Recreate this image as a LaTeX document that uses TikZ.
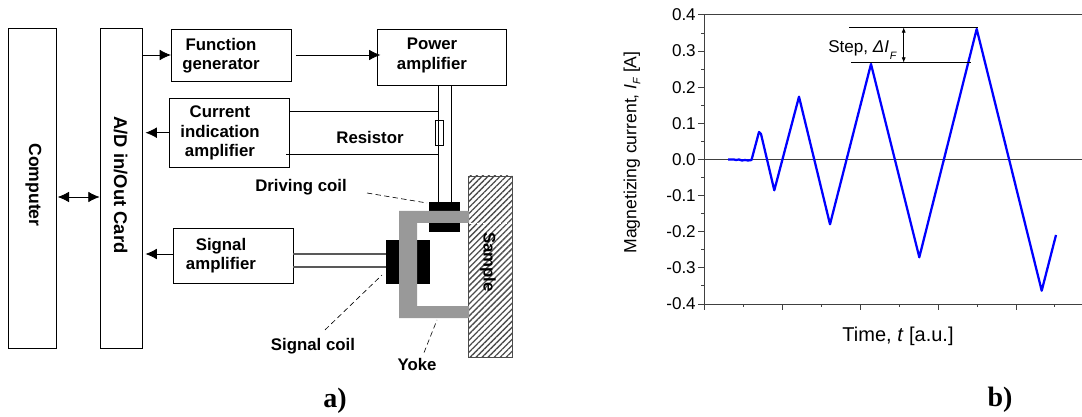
\documentclass[tikz,border=0pt]{standalone}
\usepackage{fontspec}
\setmainfont{Liberation Sans}
\newfontfamily\serifbold[BoldFont={Liberation Serif Bold}]{Liberation Serif}
\usetikzlibrary{arrows.meta,patterns.meta}
\definecolor{yokegray}{gray}{0.6}
\tikzset{
  blockbox/.style={draw=black, line width=0.6pt, minimum width=#1},
  blocktext/.style={font=\fontsize{12.6}{14.6}\selectfont\bfseries, align=center, inner sep=0pt},
  ticktext/.style={font=\fontsize{12.8}{15}\selectfont, inner sep=0pt},
  leader/.style={draw=black, dash pattern=on 4pt off 2.5pt, line width=0.45pt},
  panellabel/.style={font=\fontsize{21}{24}\selectfont\serifbold\bfseries, inner sep=0pt}
}
\begin{document}
\begin{tikzpicture}[x=0.75pt, y=-0.75pt]
  \useasboundingbox (0,0) rectangle (1082,417);
  % part a: blocks
  \begin{scope}[every node/.style={blockbox=0pt, inner sep=0pt}]
    \node[minimum width=35.5pt, minimum height=239.5pt] (computer) at (32.3,188.5) {};
    \node[minimum width=31.8pt, minimum height=239.5pt] (adcard) at (121.2,188.5) {};
    \node[minimum width=90pt, minimum height=39pt] (fgen) at (231.4,55) {};
    \node[minimum width=96.5pt, minimum height=42pt] (pamp) at (441.8,57) {};
    \node[minimum width=90pt, minimum height=51.5pt] (camp) at (229.7,132.7) {};
    \node[minimum width=90pt, minimum height=41.2pt] (samp) at (233,255.5) {};
    \node[minimum width=6pt, minimum height=18.7pt] (resistor) at (439,132.5) {};
  \end{scope}
  \begin{scope}[every node/.style={blocktext}]
    \node[rotate=-90, font=\fontsize{13.2}{15}\selectfont\bfseries] (computertext) at (33.5,185) {Computer};
    \node[rotate=-90, font=\fontsize{13.8}{15}\selectfont\bfseries] (adcardtext) at (120.7,185) {A/D in/Out Card};
    \node (fgentext) at (221,55.5) {Function\\generator};
    \node (pamptext) at (432,55.5) {Power\\amplifier};
    \node (camptext) at (220,133) {Current\\indication\\amplifier};
    \node (samptext) at (221,255.5) {Signal\\amplifier};
    \node (restext) at (370,137) {Resistor};
    \node (dcoiltext) at (301,187) {Driving coil};
    \node (scoiltext) at (313,346) {Signal coil};
    \node (yoketext) at (417,364) {Yoke};
  \end{scope}
  % sample and yoke
  \node[draw=black!70, line width=0.4pt, inner sep=0pt, minimum width=33pt, minimum height=135.8pt,
    pattern={Lines[angle=45, distance=3.2pt, line width=1pt]}, pattern color=black!70] (sample) at (490,266.5) {};
  \draw[white, densely dashed, line width=0.6pt] (470,223.5) -- (512,223.5);
  \node[blocktext, rotate=-90] (sampletext) at (488,262) {Sample};
  \fill[black] (429,202) rectangle (460,232);
  \fill[black] (386,240) rectangle (430,284);
  \fill[yokegray] (469,211) -- (399,211) -- (399,318) -- (469,318) -- (469,306)
    -- (417,306) -- (417,223) -- (469,223) -- cycle;
  \coordinate (dcoil) at (427,203);
  \coordinate (dcoilw) at (438.5,202);
  \coordinate (dcoile) at (451,202);
  \coordinate (scoilu) at (386,254);
  \coordinate (scoild) at (386,267);
  % connections
  \begin{scope}[every edge/.style={draw=black, line width=0.6pt}]
    \path (pamp.south -| dcoilw) edge (dcoilw);
    \path (pamp.south -| dcoile) edge (dcoile);
    \path (camp.east |- 0,111) edge (439,111);
    \path (286,154.7) edge (439,154.7);
    \path (samp.east |- scoilu) edge[draw=black!65, line width=0.9pt] (scoilu);
    \path (samp.east |- scoild) edge[draw=black!65, line width=0.9pt] (scoild);
  \end{scope}
  \begin{scope}[every edge/.style={draw=black, line width=0.6pt, {Latex[length=8.5pt,width=8pt]}-{Latex[length=8.5pt,width=8pt]}}]
    \path (computer.east |- 0,197) edge[shorten <=1pt] (adcard.west |- 0,197);
  \end{scope}
  \begin{scope}[every edge/.style={draw=black, line width=0.6pt, -{Latex[length=8.5pt,width=8pt]}}]
    \path (adcard.east |- fgen) edge (fgen.west);
    \path (fgen.east) edge[shorten <=3pt, shorten >=-2.5pt] (fgen.east -| pamp.west);
    \path (camp.west) edge[shorten >=2pt] (camp.west -| adcard.east);
    \path (samp.west |- scoilu) edge[shorten >=2pt] (adcard.east |- scoilu);
  \end{scope}
  \path[leader] (dcoiltext.east) ++(20,6) -- (dcoil);
  \path[leader] (scoiltext.north) ++(12,-8) -- (382,275);
  \path[leader] (yoketext.north) ++(7,-5) -- (437,320);
  \node[panellabel] (alabel) at (335,401) {a)};
  % part b: axes
  \begin{scope}[every edge/.style={draw=black!75, line width=0.75pt}]
    \coordinate (origin) at (704,304);
    \coordinate (topleft) at (704,15);
    \path (topleft) edge (origin);
    \path (topleft) edge (1082,15);
    \path (704,159.5) edge (1082,159.5);
    \path (origin) edge (1082,304);
    \foreach \ypix/\ylab in {15/0.4, 51.1/0.3, 87.3/0.2, 123.4/0.1, 159.5/0.0, 195.6/-0.1, 231.8/-0.2, 267.9/-0.3, 304/-0.4} {
      \path (704,\ypix) edge (698,\ypix);
      \node[ticktext, anchor=east] at (696,\ypix) {\ylab};
    }
    \foreach \ypix in {33.1, 69.2, 105.3, 141.4, 177.6, 213.7, 249.8, 285.9} {
      \path (704,\ypix) edge (701,\ypix);
    }
    \foreach \xpix in {704, 782, 860, 938, 1016} {
      \path (\xpix,304) edge (\xpix,310);
    }
    \foreach \xpix in {743, 821, 899, 977, 1054} {
      \path (\xpix,304) edge (\xpix,307);
    }
  \end{scope}
  \draw[blue, line width=1.7pt, line join=round] plot coordinates {(728,159.5) (734,159.5) (736,160) (739,159.5) (742,160.5) (745,160) (748,160.5) (751.5,160)
    (759,132) (761,134) (774.3,190.3) (799,96.7) (830,224.3) (871,64) (919.3,257.3) (976.7,29) (1041.7,290.7) (1056,235)};
  \coordinate (stepup) at (849,27.3);
  \coordinate (stepupend) at (978,27.3);
  \coordinate (steplow) at (851,62.7);
  \coordinate (steplowend) at (971,62.7);
  \draw[black, line width=0.5pt] (stepup) -- (stepupend);
  \draw[black, line width=0.5pt] (steplow) -- (steplowend);
  \draw[black, line width=0.5pt, {Latex[length=4pt,width=3pt]}-{Latex[length=4pt,width=3pt]}] (stepup -| 903.7,0) -- (steplow -| 903.7,0);
  \node[ticktext, anchor=west] (steptext) at (828,48) {Step, \textit{ΔI}};
  \node[font=\fontsize{8}{9}\selectfont\itshape, inner sep=0pt] (stepsub) at (893,56) {F};
  \node[ticktext, rotate=90, font=\fontsize{13.2}{15}\selectfont] (ylabel) at (632,152.5) {Magnetizing current, \textit{I}\raisebox{-3pt}{\fontsize{8}{9}\selectfont\itshape F} [A]};
  \node[ticktext, font=\fontsize{15}{17}\selectfont] (xlabel) at (898,336) {Time, \textit{t} [a.u.]};
  \node[panellabel] (blabel) at (1000,400) {b)};
\end{tikzpicture}
\end{document}
